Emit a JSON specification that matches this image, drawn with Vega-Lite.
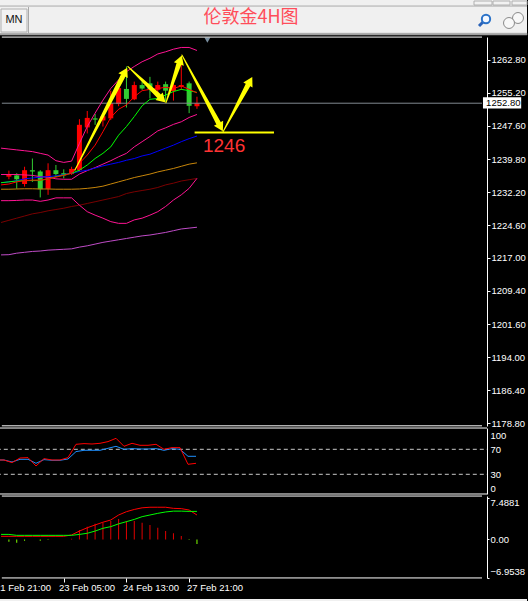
{
"$schema":"https://vega.github.io/schema/vega-lite/v6.json",
"background":"#000000",
"padding":{"left":-4,"top":0,"right":0,"bottom":0},
"bounds":"flush",
"spacing":2,
"config":{"view":{"stroke":null},"axis":{"grid":false,"title":null,"labelOverlap":false,"labelFont":"Liberation Sans","labelFontSize":9.5,"labelColor":"#ffffff","tickColor":"#ffffff","domainColor":"#ffffff"},"text":{"font":"Liberation Sans"}},
"datasets":{
"candles":[
{"i":0,"open":1235.8,"high":1237.2,"low":1235.2,"close":1236.4},
{"i":1,"open":1236.1,"high":1236.6,"low":1233.0,"close":1235.2},
{"i":2,"open":1234.1,"high":1238.1,"low":1233.5,"close":1237.3},
{"i":3,"open":1237.3,"high":1240.0,"low":1234.6,"close":1237.0},
{"i":4,"open":1237.0,"high":1237.3,"low":1231.0,"close":1232.9},
{"i":5,"open":1233.0,"high":1238.9,"low":1231.6,"close":1237.3},
{"i":6,"open":1237.3,"high":1238.5,"low":1235.8,"close":1236.4},
{"i":7,"open":1236.6,"high":1237.5,"low":1235.4,"close":1236.1},
{"i":8,"open":1236.4,"high":1238.1,"low":1236.2,"close":1237.6},
{"i":9,"open":1237.3,"high":1249.1,"low":1237.0,"close":1247.8},
{"i":10,"open":1247.2,"high":1251.0,"low":1245.8,"close":1249.4},
{"i":11,"open":1249.3,"high":1250.3,"low":1247.8,"close":1249.0},
{"i":12,"open":1248.8,"high":1250.5,"low":1247.4,"close":1249.8},
{"i":13,"open":1249.3,"high":1255.7,"low":1248.9,"close":1252.8},
{"i":14,"open":1252.6,"high":1257.0,"low":1252.1,"close":1256.3},
{"i":15,"open":1256.1,"high":1261.3,"low":1251.8,"close":1253.8},
{"i":16,"open":1253.7,"high":1257.8,"low":1253.5,"close":1257.0},
{"i":17,"open":1257.0,"high":1257.8,"low":1255.9,"close":1256.2},
{"i":18,"open":1257.4,"high":1258.9,"low":1253.9,"close":1255.9},
{"i":19,"open":1255.9,"high":1257.8,"low":1255.1,"close":1257.0},
{"i":20,"open":1257.2,"high":1257.8,"low":1253.2,"close":1255.7},
{"i":21,"open":1255.6,"high":1257.4,"low":1253.4,"close":1257.0},
{"i":22,"open":1256.6,"high":1262.0,"low":1255.9,"close":1257.0},
{"i":23,"open":1257.4,"high":1257.8,"low":1250.5,"close":1252.2},
{"i":24,"open":1252.1,"high":1254.3,"low":1251.5,"close":1252.8}
],
"ma":[
{"i":-1,"u":1242.4,"m":1236.3,"l":1230.25,"b":1234.4,"o":1232.9,"d":1225.2,"p":1217.7,"r":1233.9,"g":1234.4},
{"i":0,"u":1242.2,"m":1236.3,"l":1230.25,"b":1234.6,"o":1232.9,"d":1225.7,"p":1217.75,"r":1234.1,"g":1234.6},
{"i":1,"u":1242.0,"m":1236.3,"l":1230.3,"b":1234.9,"o":1232.95,"d":1226.2,"p":1218.1,"r":1234.6,"g":1234.8},
{"i":2,"u":1241.8,"m":1236.2,"l":1230.4,"b":1235.3,"o":1233.0,"d":1226.7,"p":1218.3,"r":1234.9,"g":1234.9},
{"i":3,"u":1241.6,"m":1236.1,"l":1230.4,"b":1235.5,"o":1233.0,"d":1227.2,"p":1218.5,"r":1235.0,"g":1234.9},
{"i":4,"u":1241.2,"m":1235.8,"l":1230.1,"b":1235.7,"o":1232.95,"d":1227.5,"p":1218.6,"r":1235.0,"g":1234.9},
{"i":5,"u":1240.8,"m":1235.7,"l":1230.4,"b":1235.8,"o":1232.95,"d":1227.9,"p":1218.8,"r":1235.3,"g":1235.3},
{"i":6,"u":1239.5,"m":1235.3,"l":1230.9,"b":1236.0,"o":1232.9,"d":1228.2,"p":1218.9,"r":1235.7,"g":1235.8},
{"i":7,"u":1239.1,"m":1235.2,"l":1230.9,"b":1236.3,"o":1232.9,"d":1228.5,"p":1219.0,"r":1236.1,"g":1236.2},
{"i":8,"u":1239.4,"m":1235.2,"l":1230.9,"b":1236.6,"o":1232.9,"d":1228.9,"p":1219.1,"r":1236.6,"g":1236.6},
{"i":9,"u":1243.5,"m":1236.4,"l":1229.2,"b":1237.0,"o":1232.95,"d":1229.2,"p":1219.5,"r":1238.9,"g":1237.3},
{"i":10,"u":1247.4,"m":1237.2,"l":1227.7,"b":1237.3,"o":1233.1,"d":1229.6,"p":1219.8,"r":1240.8,"g":1238.5},
{"i":11,"u":1250.5,"m":1237.9,"l":1226.9,"b":1237.8,"o":1233.3,"d":1230.0,"p":1220.2,"r":1243.1,"g":1240.0},
{"i":12,"u":1253.5,"m":1238.7,"l":1226.2,"b":1238.3,"o":1233.6,"d":1230.4,"p":1220.6,"r":1246.2,"g":1241.2},
{"i":13,"u":1256.2,"m":1239.5,"l":1225.4,"b":1238.7,"o":1234.1,"d":1230.8,"p":1220.9,"r":1249.5,"g":1242.7},
{"i":14,"u":1258.2,"m":1240.4,"l":1225.0,"b":1239.1,"o":1234.6,"d":1231.2,"p":1221.2,"r":1251.4,"g":1245.4},
{"i":15,"u":1260.1,"m":1241.2,"l":1225.0,"b":1239.6,"o":1235.1,"d":1231.9,"p":1221.5,"r":1252.4,"g":1247.4},
{"i":16,"u":1261.3,"m":1242.7,"l":1225.8,"b":1240.0,"o":1235.6,"d":1232.3,"p":1221.8,"r":1254.3,"g":1249.7},
{"i":17,"u":1262.4,"m":1243.9,"l":1226.2,"b":1240.6,"o":1236.0,"d":1232.6,"p":1222.1,"r":1255.7,"g":1252.2},
{"i":18,"u":1263.2,"m":1245.1,"l":1226.9,"b":1241.0,"o":1236.4,"d":1232.9,"p":1222.3,"r":1256.0,"g":1253.7},
{"i":19,"u":1264.2,"m":1246.4,"l":1227.7,"b":1241.7,"o":1236.9,"d":1233.3,"p":1222.6,"r":1256.2,"g":1253.9},
{"i":20,"u":1264.7,"m":1247.1,"l":1228.9,"b":1242.4,"o":1237.3,"d":1233.9,"p":1222.9,"r":1256.5,"g":1254.7},
{"i":21,"u":1265.3,"m":1247.9,"l":1230.4,"b":1243.1,"o":1237.7,"d":1234.3,"p":1223.3,"r":1256.2,"g":1255.5},
{"i":22,"u":1265.7,"m":1248.5,"l":1231.6,"b":1243.9,"o":1238.2,"d":1234.8,"p":1223.7,"r":1256.8,"g":1256.0},
{"i":23,"u":1265.7,"m":1249.5,"l":1233.1,"b":1244.6,"o":1238.7,"d":1235.1,"p":1223.9,"r":1256.0,"g":1255.7},
{"i":24,"u":1265.0,"m":1250.2,"l":1235.4,"b":1245.2,"o":1239.0,"d":1235.4,"p":1224.1,"r":1255.2,"g":1255.3}
],
"arrows":[
{"a":1,"s":1,"part":"tail","i":8.42,"price":1237.3},{"a":1,"s":2,"part":"neck","i":14.5,"price":1258.9},
{"a":2,"s":1,"part":"tail","i":15.17,"price":1261.3},{"a":2,"s":2,"part":"neck","i":19.13,"price":1254.5},
{"a":3,"s":1,"part":"tail","i":20.04,"price":1252.9},{"a":3,"s":2,"part":"neck","i":21.67,"price":1261.75},
{"a":4,"s":1,"part":"tail","i":22.08,"price":1263.96},{"a":4,"s":2,"part":"neck","i":26.73,"price":1248.25},
{"a":5,"s":1,"part":"tail","i":27.33,"price":1246.2},{"a":5,"s":2,"part":"neck","i":30.48,"price":1256.9}
],
"heads":[
{"a":1,"i":14.835,"price":1260.1,"heading":27.3},
{"a":2,"i":19.585,"price":1253.7,"heading":133.5},
{"a":3,"i":21.875,"price":1262.855,"heading":19},
{"a":4,"i":27.03,"price":1247.225,"heading":151.6},
{"a":5,"i":30.78,"price":1257.92,"heading":28.6}
],
"rsi":[
{"i":-1,"red":52.9,"blue":52.9},{"i":0,"red":52.9,"blue":52.9},{"i":1,"red":48.7,"blue":49.7},{"i":2,"red":56.1,"blue":54},{"i":3,"red":56.7,"blue":54},{"i":4,"red":43.3,"blue":47.6},{"i":5,"red":55.1,"blue":53.5},{"i":6,"red":52.9,"blue":52.4},{"i":7,"red":52.9,"blue":52.4},{"i":8,"red":56.7,"blue":54.5},{"i":9,"red":78,"blue":66.3},{"i":10,"red":79.1,"blue":68.4},{"i":11,"red":78.5,"blue":68.4},{"i":12,"red":79.6,"blue":68.4},{"i":13,"red":82.3,"blue":71.6},{"i":14,"red":87.6,"blue":74.8},{"i":15,"red":74.8,"blue":70},{"i":16,"red":79.6,"blue":71.1},{"i":17,"red":76.4,"blue":70.5},{"i":18,"red":76.4,"blue":70.5},{"i":19,"red":78,"blue":71.1},{"i":20,"red":70,"blue":68.4},{"i":21,"red":72.7,"blue":71.1},{"i":22,"red":72.7,"blue":70},{"i":23,"red":46,"blue":58.8},{"i":24,"red":47.6,"blue":58.8}
],
"macd":[
{"i":-1,"sig":0.9,"fast":0.55},{"i":0,"hist":-0.41,"sig":0.9,"fast":0.55},{"i":1,"hist":-0.6,"sig":0.73,"fast":0.55},{"i":2,"hist":-0.23,"sig":0.73,"fast":0.55},{"i":3,"hist":0,"sig":0.73,"fast":0.55},{"i":4,"hist":-0.23,"sig":0.73,"fast":0.55},{"i":5,"hist":-0.1,"sig":0.73,"fast":0.55},{"i":6,"hist":0,"sig":0.73,"fast":0.55},{"i":7,"hist":0,"sig":0.73,"fast":0.55},{"i":8,"hist":0.1,"sig":0.73,"fast":0.8},{"i":9,"hist":1.7,"sig":0.9,"fast":1.5},{"i":10,"hist":2.3,"sig":1.1,"fast":2.1},{"i":11,"hist":2.8,"sig":1.5,"fast":2.6},{"i":12,"hist":3.0,"sig":2.0,"fast":3.1},{"i":13,"hist":3.3,"sig":2.3,"fast":3.5},{"i":14,"hist":3.7,"sig":2.8,"fast":4.4},{"i":15,"hist":3.3,"sig":3.2,"fast":5.0},{"i":16,"hist":3.3,"sig":3.6,"fast":5.4},{"i":17,"hist":3.0,"sig":4.1,"fast":5.7},{"i":18,"hist":2.6,"sig":4.4,"fast":5.8},{"i":19,"hist":2.1,"sig":4.7,"fast":5.8},{"i":20,"hist":1.5,"sig":4.95,"fast":5.8},{"i":21,"hist":1.1,"sig":5.1,"fast":5.6},{"i":22,"hist":0.6,"sig":5.1,"fast":5.55},{"i":23,"hist":-0.1,"sig":5.05,"fast":5.3},{"i":24,"hist":-0.83,"sig":5.05,"fast":4.4}
]
},
"vconcat":[
{
"width":528,"height":35,"view":{"fill":"#f0f0f0"},
"encoding":{"x":{"type":"quantitative","axis":null,"scale":{"domain":[0,528],"nice":false,"zero":false}},"y":{"type":"quantitative","axis":null,"scale":{"domain":[35,0],"nice":false,"zero":false}}},
"layer":[
{"data":{"values":[{"x":475,"x2":493,"y":1,"y2":5},{"x":494,"x2":511,"y":1,"y2":5},{"x":513,"x2":528,"y":1,"y2":5},{"x":2,"x2":28,"y":9,"y2":32}]},
"mark":{"type":"rect","fill":"#f2f2f2","stroke":"#b0b0b0","strokeWidth":1},
"encoding":{"x":{"field":"x"},"x2":{"field":"x2"},"y":{"field":"y"},"y2":{"field":"y2"}}},
{"data":{"values":[{"x":0,"x2":528,"y":6,"y2":6.1},{"x":0,"x2":528,"y":33.2,"y2":35}]},"mark":{"type":"rect","fill":"#a0a0a0","stroke":"#a0a0a0","strokeWidth":0.5},
"encoding":{"x":{"field":"x"},"x2":{"field":"x2"},"y":{"field":"y"},"y2":{"field":"y2"}}},
{"data":{"values":[{"x":29.5,"y":7,"y2":33}]},"mark":{"type":"rule","color":"#a8a8a8","strokeWidth":1},
"encoding":{"x":{"field":"x"},"y":{"field":"y"},"y2":{"field":"y2"}}},
{"data":{"values":[{"x":15,"y":20,"t":"MN"}]},"mark":{"type":"text","fontSize":11,"fill":"#111111","font":"Liberation Sans"},
"encoding":{"x":{"field":"x"},"y":{"field":"y"},"text":{"field":"t"}}},
{"data":{"values":[{"x":252,"y":18,"t":"伦敦金4H图"}]},"mark":{"type":"text","fontSize":18,"fill":"#ff4d5a","font":"Noto Sans CJK SC"},
"encoding":{"x":{"field":"x"},"y":{"field":"y"},"text":{"field":"t"}}},
{"data":{"values":[{"x":480,"y":26,"x2":484,"y2":22}]},"mark":{"type":"rule","color":"#2a62b8","strokeWidth":3},
"encoding":{"x":{"field":"x"},"x2":{"field":"x2"},"y":{"field":"y"},"y2":{"field":"y2"}}},
{"data":{"values":[{"x":487,"y":19}]},"mark":{"type":"point","shape":"circle","size":70,"stroke":"#2a72c8","strokeWidth":2,"fill":"#f4f8ff","opacity":1},
"encoding":{"x":{"field":"x"},"y":{"field":"y"}}},
{"data":{"values":[{"x":519,"y":18},{"x":510,"y":23}]},"mark":{"type":"point","shape":"circle","size":120,"stroke":"#8a8a8a","strokeWidth":1,"fill":"#f8f8f8","opacity":1},
"encoding":{"x":{"field":"x"},"y":{"field":"y"}}}
]},
{
"width":488,"height":389,
"encoding":{"x":{"type":"quantitative","axis":null,"scale":{"domain":[-0.625,60.375],"nice":false,"zero":false}},
"y":{"type":"quantitative","scale":{"domain":[1178.11,1268.12],"nice":false,"zero":false},
"axis":{"orient":"right","values":[1262.8,1255.2,1247.6,1239.8,1232.2,1224.6,1217.0,1209.4,1201.6,1194.0,1186.4,1178.8],"format":".2f","tickSize":3,"labelPadding":1,"domain":true,"labelBound":false,"labelOverlap":false}}},
"layer":[
{"data":{"name":"candles"},"mark":{"type":"rule","strokeWidth":1},
"encoding":{"x":{"field":"i"},"y":{"field":"low"},"y2":{"field":"high"},
"color":{"condition":{"test":"datum.close>datum.open","value":"#ff0000"},"value":"#32cd32"}}},
{"data":{"name":"candles"},"mark":{"type":"bar","size":5,"orient":"vertical"},
"encoding":{"x":{"field":"i"},"y":{"field":"open"},"y2":{"field":"close"},
"color":{"condition":{"test":"datum.close>datum.open","value":"#ff0000"},"value":"#32cd32"}}},
{"data":{"values":[{"i":-0.9,"i2":60.375,"price":1252.8}]},"mark":{"type":"rule","color":"#808890","strokeWidth":1},"encoding":{"x":{"field":"i"},"x2":{"field":"i2"},"y":{"field":"price"}}},
{"data":{"name":"ma"},"transform":[{"fold":["d","p","o","l","m","u","b","g","r"],"as":["series","price"]}],
"mark":{"type":"line","strokeWidth":1,"clip":true},
"encoding":{"x":{"field":"i"},"y":{"field":"price"},
"color":{"field":"series","type":"nominal","legend":null,"scale":{"domain":["d","p","o","l","m","u","b","g","r"],"range":["#7a0000","#c04cc8","#c8860a","#ff1493","#ff1493","#ff1493","#0000ff","#00ff00","#ff0000"]}}}},
{"data":{"name":"arrows"},"mark":{"type":"trail","color":"#ffff00"},
"encoding":{"x":{"field":"i"},"y":{"field":"price"},
"detail":{"field":"a"},"order":{"field":"s"},
"size":{"field":"part","type":"nominal","legend":null,"scale":{"domain":["tail","neck"],"range":[1,5]}}}},
{"data":{"name":"heads"},"mark":{"type":"point","shape":"triangle-up","size":110,"filled":true,"color":"#ffff00","opacity":1},
"encoding":{"x":{"field":"i"},"y":{"field":"price"},"angle":{"field":"heading","type":"quantitative","scale":null}}},
{"data":{"values":[{"i":23.7,"i2":33.83,"price":1246}]},"mark":{"type":"rule","color":"#ffff00","strokeWidth":2},
"encoding":{"x":{"field":"i"},"x2":{"field":"i2"},"y":{"field":"price"}}},
{"data":{"values":[{"i":27.46,"price":1242.9,"t":"1246"}]},"mark":{"type":"text","fontSize":19,"fill":"#ff3333","font":"Liberation Sans"},
"encoding":{"x":{"field":"i"},"y":{"field":"price"},"text":{"field":"t"}}},
{"data":{"values":[{"i":25.33,"price":1267.4}]},"mark":{"type":"point","shape":"triangle-down","size":35,"fill":"#7a8fa0","stroke":null,"opacity":1},
"encoding":{"x":{"field":"i"},"y":{"field":"price"}}},
{"data":{"values":[{"i":60.5,"i2":65.375,"hi":1254.2,"lo":1251.6}]},"mark":{"type":"rect","fill":"#ffffff"},
"encoding":{"x":{"field":"i"},"x2":{"field":"i2"},"y":{"field":"hi"},"y2":{"field":"lo"}}},
{"data":{"values":[{"i":60.9,"price":1252.8,"t":"1252.80"}]},"mark":{"type":"text","align":"left","fontSize":9.5,"fill":"#000000","font":"Liberation Sans"},
"encoding":{"x":{"field":"i"},"y":{"field":"price"},"text":{"field":"t"}}},
{"data":{"values":[{"i":-0.9,"i2":60.375,"price":1268.1},{"i":-0.9,"i2":60.375,"price":1178.15}]},"mark":{"type":"rule","color":"#ffffff","strokeWidth":1},"encoding":{"x":{"field":"i"},"x2":{"field":"i2"},"y":{"field":"price"}}}
]},
{
"width":488,"height":66,
"encoding":{"x":{"type":"quantitative","axis":null,"scale":{"domain":[-0.625,60.375],"nice":false,"zero":false}},
"y":{"type":"quantitative","scale":{"domain":[-1.52,104.08],"nice":false,"zero":false},
"axis":{"orient":"right","values":[100,70,30,0],"format":"d","tickSize":0,"labelPadding":3,"domain":true,"labelBound":false,"labelOverlap":false,"labelOffset":{"expr":"datum.value==100?5:datum.value==0?-5:0"}}}},
"layer":[
{"data":{"values":[{"level":70,"i":-0.9,"i2":60.375},{"level":30,"i":-0.9,"i2":60.375}]},"mark":{"type":"rule","color":"#c8c8c8","strokeWidth":1,"strokeDash":[4,3]},
"encoding":{"x":{"field":"i"},"x2":{"field":"i2"},"y":{"field":"level"}}},
{"data":{"name":"rsi"},"mark":{"type":"line","strokeWidth":1,"color":"#1e90ff","clip":true},
"encoding":{"x":{"field":"i"},"y":{"field":"blue"}}},
{"data":{"name":"rsi"},"mark":{"type":"line","strokeWidth":1,"color":"#ff0000","clip":true},
"encoding":{"x":{"field":"i"},"y":{"field":"red"}}},
{"data":{"values":[{"level":104.05,"i":-0.9,"i2":60.375},{"level":-1.5,"i":-0.9,"i2":60.375}]},"mark":{"type":"rule","color":"#ffffff","strokeWidth":1},"encoding":{"x":{"field":"i"},"x2":{"field":"i2"},"y":{"field":"level"}}}
]},
{
"width":488,"height":82,
"encoding":{"x":{"type":"quantitative","scale":{"domain":[-0.625,60.375],"nice":false,"zero":false},
"axis":{"orient":"bottom","values":[7,15,23],"labels":false,"tickSize":4,"domain":false}},
"y":{"type":"quantitative","scale":{"domain":[-6.97,7.83],"nice":false,"zero":false},
"axis":{"orient":"right","values":[7.4881,0,-6.9538],"labelExpr":"datum.value==0?'0.00':format(datum.value,'.4f')","tickSize":2,"labelPadding":1,"domain":true,"labelBound":false,"labelOverlap":false,"labelOffset":{"expr":"datum.value>1?5:datum.value<-1?-6:0"}}}},
"layer":[
{"data":{"name":"macd"},"transform":[{"filter":"isValid(datum.hist)"}],"mark":{"type":"bar","size":1,"orient":"vertical"},
"encoding":{"x":{"field":"i"},"y":{"field":"hist"},"y2":{"datum":0},
"color":{"condition":{"test":"datum.hist>0","value":"#e00000"},"value":"#7fff00"}}},
{"data":{"name":"macd"},"mark":{"type":"line","strokeWidth":1,"color":"#ff0000","clip":true},
"encoding":{"x":{"field":"i"},"y":{"field":"fast"}}},
{"data":{"name":"macd"},"mark":{"type":"line","strokeWidth":1,"color":"#00ff00","clip":true},
"encoding":{"x":{"field":"i"},"y":{"field":"sig"}}},
{"data":{"values":[{"level":7.82,"i":-0.9,"i2":60.375},{"level":-6.96,"i":-0.9,"i2":60.375}]},"mark":{"type":"rule","color":"#ffffff","strokeWidth":1},"encoding":{"x":{"field":"i"},"x2":{"field":"i2"},"y":{"field":"level"}}}
]},
{
"width":528,"height":21,
"encoding":{"x":{"type":"quantitative","axis":null,"scale":{"domain":[-0.625,65.375],"nice":false,"zero":false}}},
"layer":[
{"data":{"values":[{"i":-1,"t":"21 Feb 21:00"},{"i":7,"t":"23 Feb 05:00"},{"i":15,"t":"24 Feb 13:00"},{"i":23,"t":"27 Feb 21:00"}]},
"mark":{"type":"text","align":"left","dx":-1,"dy":-3,"fontSize":9.5,"fill":"#ffffff","font":"Liberation Sans","clip":true},
"encoding":{"x":{"field":"i"},"text":{"field":"t"}}},
{"data":{"values":[{"i":-0.625,"i2":65.375,"y":19,"y2":21}]},"mark":{"type":"rect","fill":"#f0f0f0"},"encoding":{"x":{"field":"i"},"x2":{"field":"i2"},"y":{"field":"y","type":"quantitative","axis":null,"scale":{"domain":[21,0],"nice":false,"zero":false}},"y2":{"field":"y2"}}}
]}
]
}
